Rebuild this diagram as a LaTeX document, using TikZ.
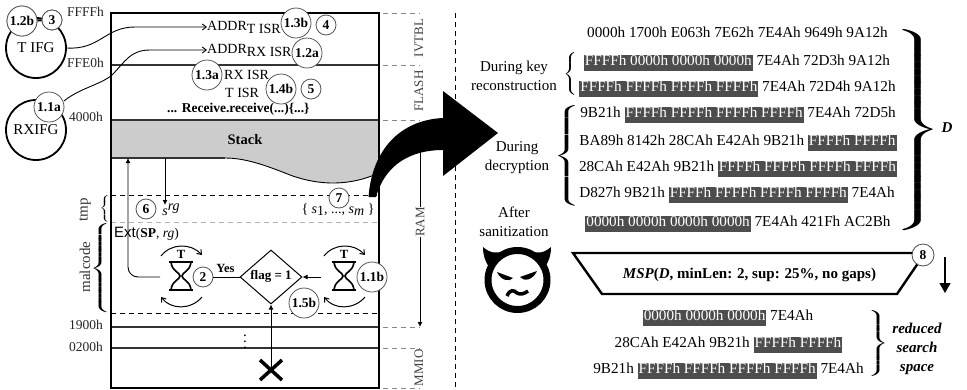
\documentclass[tikz,border=0pt]{standalone}
\usepackage{fontspec}
\usepackage{graphicx}
\setmainfont{Liberation Serif}
\setsansfont{Liberation Sans}
\usetikzlibrary{arrows.meta,shapes.geometric}
\definecolor{hlgray}{HTML}{4D4D4D}
\definecolor{stackgray}{HTML}{CCCCCC}
\definecolor{memline}{HTML}{333333}
\definecolor{tickgray}{HTML}{888888}
\definecolor{calloutgray}{HTML}{555555}
\setlength{\fboxsep}{0pt}
\setlength{\nulldelimiterspace}{0pt}
\newcommand{\hl}[1]{\colorbox{hlgray}{\rule[-5pt]{0pt}{14pt}\kern1pt\textcolor{white}{#1}\kern1pt}}
\newcommand{\bracefit}[3]{\resizebox*{#1pt}{#2pt}{$#3$}}
\tikzset{
  rowtext/.style={font=\fontsize{15.2}{19}\selectfont, inner sep=0pt, text height=14pt, text depth=5pt},
  sidetext/.style={font=\fontsize{15}{19}\selectfont, inner sep=0pt, align=center},
  addr/.style={font=\fontsize{13.5}{16}\selectfont, inner sep=0pt, text=black!85},
  memtext/.style={font=\fontsize{14}{16}\selectfont, inner sep=0pt, anchor=west},
  regionlabel/.style={font=\fontsize{13}{15}\selectfont, inner sep=0pt, rotate=90, text=black!75},
  sidelabel/.style={font=\fontsize{15}{17}\selectfont, inner sep=0pt, rotate=90, text=black!80},
  flagcircle/.style={circle, draw=black, line width=1.8pt, minimum size=60pt, inner sep=0pt, font=\fontsize{15}{17}\selectfont},
  callout/.style={circle, draw=calloutgray, fill=white, line width=0.8pt, minimum size=30pt, inner sep=0pt, font=\fontsize{13.5}{15}\selectfont\bfseries},
  smallcallout/.style={callout, minimum size=20pt},
  arrow/.style={-{Latex[length=5pt,width=5pt]}, line width=0.9pt},
  wheel/.style={-{Straight Barb[length=4pt,width=6pt]}, line width=1pt},
  memline/.style={draw=memline, line width=1.1pt},
  tick/.style={draw=tickgray, line width=0.9pt, dash pattern=on 5pt off 4pt},
  bound/.style={draw=black, line width=0.9pt, dash pattern=on 5pt off 4pt}
}
\begin{document}
\begin{tikzpicture}[x=1pt,y=-1pt]
\useasboundingbox (0,0) rectangle (967,389);
% memory map
\fill[stackgray] (111,120) -- (379,120) -- (379,173) .. controls (350,186) and (320,186) .. (290,175) .. controls (265,165) and (245,158) .. (225,158) -- (111,158) -- cycle;
\draw[line width=0.9pt] (225,158) .. controls (245,158) and (265,165) .. (290,175) .. controls (320,186) and (350,186) .. (379,173);
\draw[memline] (111,158) -- (225,158);
\draw[memline] (111,65) -- (379,65);
\draw[memline] (111,120) -- (379,120);
\draw[bound] (111,195) -- (379,195);
\draw[tick, draw=black!30] (111,222) -- (379,222);
\draw[bound] (111,313) -- (379,313);
\draw[memline] (111,327) -- (379,327);
\draw[memline] (111,348) -- (379,348);
\draw[line width=1.1pt] (111,388) -- (111,13) -- (379,13) -- (379,388) -- cycle;
% regions on the right
\foreach \y in {13,65,120,327,348,388} {
  \draw[tick] (383,\y) -- (420,\y);
}
\draw[bound] (455,13) -- (455,388);
\node[regionlabel] (ivtbl) at (419,38) {IVTBL};
\node[regionlabel] (flash) at (419,91) {FLASH};
\node[regionlabel] (mmio) at (419,368) {MMIO};
\coordinate (ramtop) at (420,150);
\coordinate (rambot) at (420,327);
\draw[arrow] (ramtop) -- (rambot);
\node[regionlabel, fill=white, inner ysep=3pt] (ram) at (420,222) {RAM};
% addresses
\node[addr] (aFFFF) at (85.5,12) {FFFFh};
\node[addr] (aFFE0) at (85.5,63) {FFE0h};
\node[addr] (a4000) at (86,117) {4000h};
\node[addr] (a1900) at (86,325) {1900h};
\node[addr] (a0200) at (86,347) {0200h};
% flash contents
\node[memtext] (addrt) at (207,27) {ADDR\raisebox{-3pt}{T ISR}};
\node[memtext] (addrrx) at (207,50) {ADDR\raisebox{-3pt}{RX ISR}};
\node[memtext] (rxisr) at (224,75) {RX ISR};
\node[memtext] (tisr) at (225,93) {T ISR};
\node[memtext, font=\fontsize{13.5}{16}\selectfont\bfseries] (receive) at (167,109) {... Receive.receive(...)\{...\}};
\node[inner sep=0pt, font=\fontsize{14.5}{16}\selectfont\bfseries] (stack) at (245,140) {Stack};
\node[inner sep=0pt, font=\fontsize{14}{16}\selectfont] (srg) at (171,210) {\textit{s}\raisebox{5pt}{\textit{rg}}};
\node[inner sep=0pt, font=\fontsize{14}{16}\selectfont] (slist) at (338,210) {\{ \textit{s}\raisebox{-2pt}{1}, ..., \textit{s}\raisebox{-2pt}{\textit{m}} \}};
\node[memtext] (ext) at (114,234) {{\sffamily\fontsize{15}{16}\selectfont Ext}{\fontsize{13.5}{16}\selectfont(\textbf{SP}, \textit{rg})}};
% interrupt flags
\node[flagcircle] (tifg) at (36,48) {T IFG};
\node[flagcircle] (rxifg) at (36,130) {RXIFG};
\draw[arrow, -{Straight Barb[length=4pt,width=6pt]}] (tifg.east) .. controls (100,50) and (105,27) .. (135,27) -- (addrt.west);
\draw[arrow, -{Straight Barb[length=4pt,width=6pt]}] (64,101) .. controls (80,88) and (100,85) .. (112,75) .. controls (125,62) and (130,50) .. (150,50) -- (addrrx.west);
% stack arrows and braces
\coordinate (stackout) at (165,158);
\coordinate (stackin) at (128,158);
\draw[arrow] (stackout) -- (165,205);
\node[inner sep=0pt] (tmpbrace) at (104.5,208.5) {\bracefit{10}{27}{\left\{\rule{0pt}{20pt}\right.}};
\node[inner sep=0pt] (malbrace) at (100,267.5) {\bracefit{21}{91}{\left\{\rule{0pt}{40pt}\right.}};
\node[sidelabel] (tmp) at (85,210) {tmp};
\node[sidelabel] (malcode) at (85,267) {malcode};
% timers
\foreach \hx in {181,344} {
  \draw[line width=1.6pt] (\hx-10,262) .. controls (\hx-9,272) and (\hx-1,272) .. (\hx-1,276) .. controls (\hx-1,280) and (\hx-9,280) .. (\hx-10,290);
  \draw[line width=1.6pt] (\hx+10,262) .. controls (\hx+9,272) and (\hx+1,272) .. (\hx+1,276) .. controls (\hx+1,280) and (\hx+9,280) .. (\hx+10,290);
  \draw[line width=2pt] (\hx-12,262) -- (\hx+12,262);
  \draw[line width=2pt] (\hx-12,290) -- (\hx+12,290);
  \draw[wheel] (\hx-20,256) .. controls (\hx-10,243) and (\hx+10,243) .. (\hx+21,255);
  \draw[wheel] (\hx+21,297) .. controls (\hx+10,310) and (\hx-10,310) .. (\hx-20,297);
  \node[inner sep=0pt, font=\fontsize{12.5}{14}\selectfont\bfseries] at (\hx,254.5) {T};
}
\node[diamond, draw=black, line width=1pt, minimum width=62pt, minimum height=54pt, inner sep=0pt, font=\fontsize{13}{15}\selectfont\bfseries] (flag) at (271,277) {};
\node[inner sep=0pt, font=\fontsize{13}{15}\selectfont\bfseries] (flagtxt) at (271,276) {flag = 1};
\coordinate (hgleft) at (160,277);
\coordinate (hgright) at (321,277);
\coordinate (cross) at (271,370);
\draw[arrow, rounded corners=10pt] (hgleft) -- (128,277) -- (stackin);
\draw[arrow] (hgright) -- (flag.east);
\draw[arrow] (cross) -- (flag.south);
\draw[line width=3.5pt] (260,360) -- (282,380);
\draw[line width=3.5pt] (282,360) -- (260,380);
\node[inner sep=0pt, font=\fontsize{12.5}{14}\selectfont\bfseries] (yes) at (225.5,268) {Yes};
\node[inner sep=0pt] (vdots) at (245,337) {\scalebox{1.5}{$\vdots$}};
% big arrow
\fill[black] (368.5,197) .. controls (372,150) and (400,120) .. (443,118) -- (443,91) -- (498,133) -- (443,176) -- (443,150) .. controls (410,150) and (385,165) .. (376,197) -- cycle;
% callouts
\node[callout] (c12b) at (22,21) {1.2b};
\node[smallcallout] (c3) at (52,20) {3};
\draw[line width=2pt] (c12b) -- (c3);
\node[callout] (c12b) at (22,21) {1.2b};
\node[smallcallout] (c3) at (52,20) {3};
\node[callout] (c11a) at (49,107) {1.1a};
\node[callout] (c13b) at (296,23) {1.3b};
\node[smallcallout] (c4) at (326,25) {4};
\node[callout] (c12a) at (307,53) {1.2a};
\node[callout] (c13a) at (207,75) {1.3a};
\node[callout] (c14b) at (281,89) {1.4b};
\node[smallcallout] (c5) at (311,89) {5};
\node[smallcallout] (c6) at (146,209) {6};
\node[smallcallout] (c7) at (339,198) {7};
\node[smallcallout] (c2) at (203,277) {2};
\draw[line width=0.9pt] (c2) -- (flag.west);
\node[callout] (c11b) at (372,277) {1.1b};
\node[callout] (c15b) at (304,303) {1.5b};
% observed values
\foreach \rname/\rx/\ry/\rtxt in {
  r1/737.5/33/{0000h 1700h E063h 7E62h 7E4Ah 9649h 9A12h},
  r2/737/61/{\hl{FFFFh 0000h 0000h 0000h} 7E4Ah 72D3h 9A12h},
  r3/737.5/87/{\hl{FFFFh FFFFh FFFFh FFFFh} 7E4Ah 72D4h 9A12h},
  r4/738/113/{9B21h \hl{FFFFh FFFFh FFFFh FFFFh} 7E4Ah 72D5h},
  r5/738/141/{BA89h 8142h 28CAh E42Ah 9B21h \hl{FFFFh FFFFh}},
  r6/738/167/{28CAh E42Ah 9B21h \hl{FFFFh FFFFh FFFFh FFFFh}},
  r7/737/193/{D827h 9B21h \hl{FFFFh FFFFh FFFFh FFFFh} 7E4Ah},
  r8/738/222/{\hl{0000h 0000h 0000h 0000h} 7E4Ah 421Fh AC2Bh},
  s1/728/316/{\hl{0000h 0000h 0000h} 7E4Ah},
  s2/728.5/343/{28CAh E42Ah 9B21h \hl{FFFFh FFFFh}},
  s3/728.5/369/{9B21h \hl{FFFFh FFFFh FFFFh FFFFh} 7E4Ah}} {
  \node[rowtext] (\rname) at (\rx,\ry) {\rtxt};
}
\node[sidetext] (keyrec) at (514,75.5) {During key\\reconstruction};
\node[sidetext] (decrypt) at (517,157.5) {During\\decryption};
\node[sidetext] (sanit) at (514,221.5) {After\\sanitization};
\node[inner sep=0pt] (keybrace) at (570,74) {\bracefit{14}{43}{\left\{\rule{0pt}{20pt}\right.}};
\node[inner sep=0pt] (decbrace) at (566.5,155) {\bracefit{27}{103}{\left\{\rule{0pt}{40pt}\right.}};
\node[inner sep=0pt] (dbrace) at (918,127) {\bracefit{49}{207}{\left.\rule{0pt}{50pt}\right\}}};
\node[inner sep=0pt, font=\fontsize{15}{17}\selectfont\bfseries\itshape] (dlabel) at (947,128) {D};
% devil
\draw[line width=7pt] (517.5,280) circle (29.5pt);
\fill (483,247) .. controls (490,253) and (496,254) .. (504,251) -- (490,268) .. controls (485,262) and (483,255) .. cycle;
\fill (551,247) .. controls (544,253) and (538,254) .. (530,251) -- (544,268) .. controls (549,262) and (551,255) .. cycle;
\fill (497,272) -- (513,278) .. controls (510,282) and (501,281) .. cycle;
\fill (537,271) -- (520,277) .. controls (524,282) and (533,280) .. cycle;
\draw[line width=3.5pt] (507,296) .. controls (510,289) and (514,290) .. (517,293) .. controls (520,295) and (524,294) .. (528,291);
% sequential pattern mining
\draw[line width=2.4pt] (573,253) -- (925,253) -- (897,294) -- (602,294) -- cycle;
\node[inner sep=0pt, font=\fontsize{15}{17}\selectfont\bfseries] (msp) at (749.5,275) {\textit{MSP}(\textit{D}, minLen: 2, sup: 25\%, no gaps)};
\node[smallcallout, minimum size=22pt, draw=black!70] (c8) at (923,255) {8};
\coordinate (downa) at (945,257);
\coordinate (downb) at (945,293);
\draw[-{Triangle[length=10pt,width=11pt]}, line width=1.3pt] (downa) -- (downb);
\node[inner sep=0pt] (redbrace) at (878,343) {\bracefit{21}{66}{\left.\rule{0pt}{30pt}\right\}}};
\node[sidetext, font=\fontsize{15}{19}\selectfont\bfseries\itshape] (reduced) at (917,349) {reduced\\search\\space};
\end{tikzpicture}
\end{document}
